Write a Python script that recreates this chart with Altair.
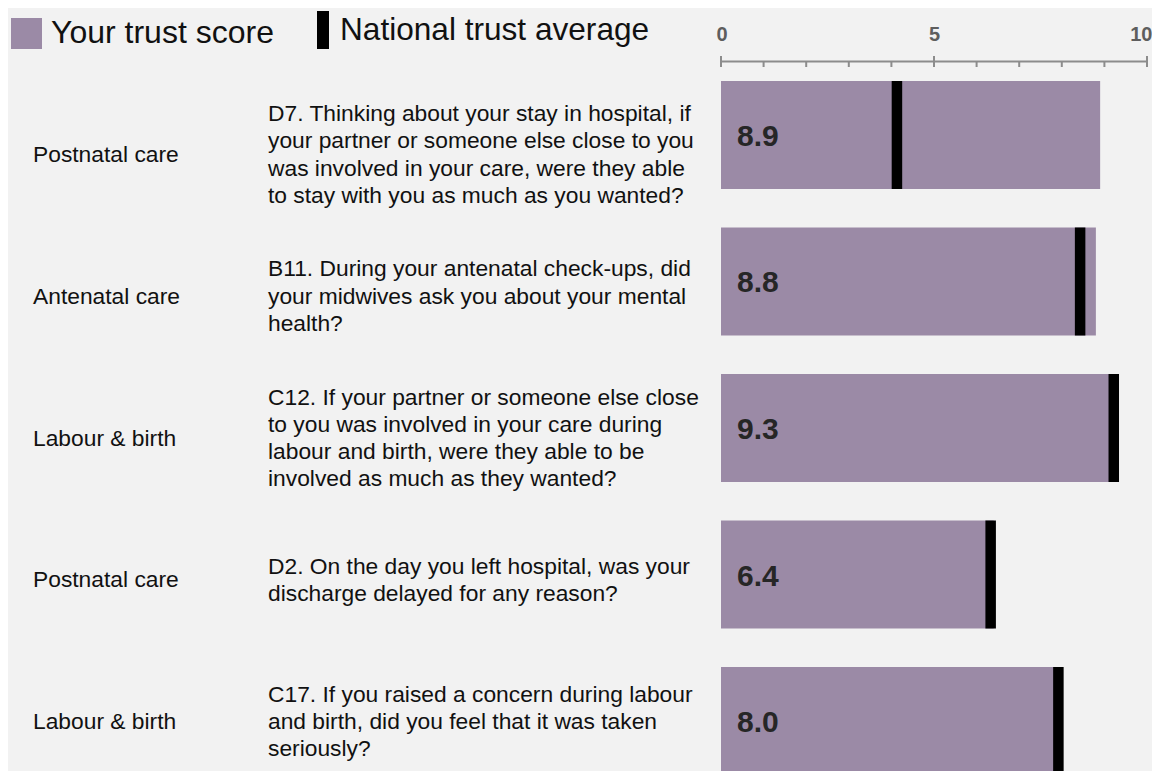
import altair as alt
import pandas as pd

# ---- data ----
row_ids = [1, 2, 3, 4, 5]
categories = ["Postnatal care", "Antenatal care", "Labour & birth", "Postnatal care", "Labour & birth"]
questions = [
    "D7. Thinking about your stay in hospital, if\nyour partner or someone else close to you\nwas involved in your care, were they able\nto stay with you as much as you wanted?",
    "B11. During your antenatal check-ups, did\nyour midwives ask you about your mental\nhealth?",
    "C12. If your partner or someone else close\nto you was involved in your care during\nlabour and birth, were they able to be\ninvolved as much as they wanted?",
    "D2. On the day you left hospital, was your\ndischarge delayed for any reason?",
    "C17. If you raised a concern during labour\nand birth, did you feel that it was taken\nseriously?",
]
trust_scores = [8.9, 8.8, 9.3, 6.4, 8.0]
national_avg = [4.13, 8.43, 9.22, 6.33, 7.92]
tick_values = [0, 1, 2, 3, 4, 5, 6, 7, 8, 9, 10]
major_ticks = [0, 5, 10]
legend_labels = ["Your trust score", "National trust average"]

FONT = "Liberation Sans"
PURPLE = "#9b8aa6"
AXIS_GREY = "#8c8c8c"
TEXT_COL = "#111111"
LH = 27.3
QSIZE = 22.8

df = pd.DataFrame({
    "row": row_ids,
    "category": categories,
    "question": questions,
    "score": trust_scores,
    "national": national_avg,
})
df["score_label"] = [f"{v:.1f}" for v in trust_scores]
df["nlines"] = [q.count("\n") + 1 for q in questions]

x_scale = alt.Scale(domain=[0, 10], nice=False, zero=True)
band_scale = alt.Scale(type="band", domain=row_ids, paddingInner=0.2628, paddingOuter=0.1365)
y_band = alt.Y("row:O", axis=None, scale=band_scale)
y_text = alt.Y("row:O", axis=None,
               scale=alt.Scale(type="point", domain=row_ids, padding=0, range=[94, 661]))

base = alt.Chart(df)

bars = base.mark_bar(color=PURPLE).encode(
    x=alt.X("score:Q", scale=x_scale,
            axis=alt.Axis(orient="top", values=major_ticks, ticks=False,
                          domainColor=AXIS_GREY, domainWidth=2,
                          labelFontSize=20, labelFontWeight="bold",
                          labelColor="#5e5e5e", labelPadding=17,
                          labelFont=FONT, grid=False, title=None,
                          labelFlush=True, labelFlushOffset=5)),
    y=y_band,
)

nat = base.mark_tick(color="black", thickness=10.5, size=108, opacity=1).encode(
    x=alt.X("national:Q", scale=x_scale),
    y=y_band,
)

value_text = base.mark_text(align="left", baseline="middle", font=FONT,
                            fontSize=30, fontWeight="bold", color="#262626", dy=2).encode(
    x=alt.value(16),
    y=y_band,
    text="score_label:N",
)

cat_text = base.mark_text(align="left", baseline="middle", font=FONT,
                          fontSize=QSIZE, color=TEXT_COL).encode(
    x=alt.value(-688),
    y=y_text,
    text="category:N",
)

q_layers = []
for n in sorted(set(df["nlines"])):
    q_layers.append(
        base.transform_filter(alt.datum.nlines == n).mark_text(
            align="left", baseline="middle", font=FONT,
            fontSize=QSIZE, lineHeight=LH, lineBreak="\n",
            color=TEXT_COL, dy=-(n - 1) * LH / 2,
        ).encode(
            x=alt.value(-453),
            y=y_text,
            text="question:N",
        )
    )

tick_df = pd.DataFrame({"t": tick_values})
minor = alt.Chart(tick_df).mark_rule(color=AXIS_GREY, strokeWidth=2).encode(
    x=alt.X("t:Q", scale=x_scale),
    y=alt.value(0),
    y2=alt.value(6),
)
major = alt.Chart(pd.DataFrame({"t": major_ticks})).mark_rule(color=AXIS_GREY, strokeWidth=2).encode(
    x=alt.X("t:Q", scale=x_scale),
    y=alt.value(-5),
    y2=alt.value(6),
)

leg_df = pd.DataFrame({"label": legend_labels})
leg_sq = alt.Chart(leg_df).transform_filter(alt.datum.label == legend_labels[0]).mark_rect(color=PURPLE).encode(
    x=alt.value(-710), x2=alt.value(-679), y=alt.value(-43), y2=alt.value(-12)
)
leg_bar = alt.Chart(leg_df).transform_filter(alt.datum.label == legend_labels[1]).mark_rect(color="black").encode(
    x=alt.value(-404), x2=alt.value(-392), y=alt.value(-50), y2=alt.value(-12)
)
leg_t1 = alt.Chart(leg_df).transform_filter(alt.datum.label == legend_labels[0]).mark_text(
    align="left", baseline="alphabetic", font=FONT, fontSize=32, color=TEXT_COL).encode(
    x=alt.value(-670), y=alt.value(-18), text="label:N"
)
leg_t2 = alt.Chart(leg_df).transform_filter(alt.datum.label == legend_labels[1]).mark_text(
    align="left", baseline="alphabetic", font=FONT, fontSize=31.6, color=TEXT_COL).encode(
    x=alt.value(-381), y=alt.value(-21), text="label:N"
)

chart = alt.layer(
    bars, nat, value_text, cat_text, *q_layers, minor, major, leg_sq, leg_bar, leg_t1, leg_t2
).resolve_scale(
    y="independent"
).properties(
    width=426,
    height=734,
    autosize=alt.AutoSizeParams(type="none"),
    padding={"left": 713, "top": 53, "right": 5, "bottom": 0},
    background="#f2f2f2",
).configure_view(stroke=None)

chart.save("out.html", embed_options={"renderer": "svg", "actions": False})
